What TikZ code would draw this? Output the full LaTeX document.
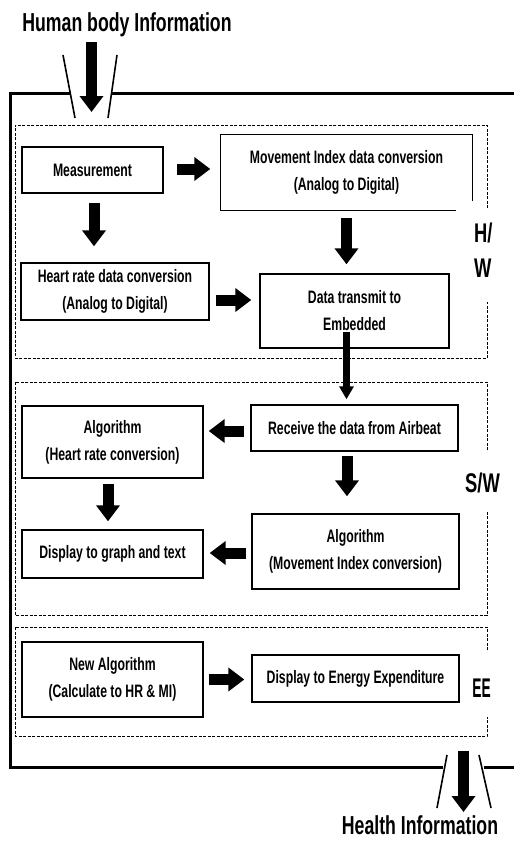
\documentclass[tikz,border=0pt]{standalone}
\usepackage{fontspec}
\setmainfont{Liberation Sans}[FakeStretch=0.68]
\usetikzlibrary{arrows.meta}
\newcommand\bxf{\fontsize{18}{27}\selectfont\bfseries}
\tikzset{
  box/.style={draw, line width=1.4pt, inner sep=0pt, align=center, font=\bxf},
  grp/.style={draw, line width=0.9pt, dash pattern=on 3pt off 1.5pt},
  frame/.style={line width=3pt},
  slash/.style={line width=1.6pt},
  blk/.style={line width=11pt, -{Triangle[length=16pt,width=23pt]}},
  thinblk/.style={line width=7pt, -{Triangle[length=13pt,width=14pt]}},
  lbl/.style={font=\fontsize{27}{35}\selectfont\bfseries, inner sep=0pt},
  ttl/.style={font=\fontsize{26}{30}\selectfont\bfseries, inner sep=0pt, anchor=base},
}
\begin{document}
\begin{tikzpicture}[x=1pt,y=-1pt]
\useasboundingbox (0,0) rectangle (514,844);

% outer frame
\draw[frame] (70,93) -- (10,93) -- (10,767) -- (443,767);
\draw[frame] (112,93) -- (514,93);
\draw[frame] (484,767) -- (514,767);
\draw[slash] (63,55) -- (75,118);
\draw[slash] (117,55) -- (108,118);
\draw[slash] (447,755) -- (437,808);
\draw[slash] (479,755) -- (491,808);

% titles
\node[ttl] (title) at (127,31) {Human body Information};
\node[ttl] (out) at (420,834) {Health Information};
\coordinate (inTop) at (91.5,42);
\coordinate (inTip) at (91.5,112);
\coordinate (outTop) at (463.5,751);
\coordinate (outTip) at (463.5,812);
\draw[blk] (inTop) -- (inTip);
\draw[blk] (outTop) -- (outTip);

% group frames
\draw[grp] (487,208) -- (487,125) -- (15,125) -- (15,358) -- (487,358) -- (487,302);
\draw[grp] (487,450) -- (487,382) -- (15,382) -- (15,615) -- (487,615) -- (487,512);
\draw[grp] (487,650) -- (487,627) -- (15,627) -- (15,736) -- (487,736) -- (487,717);

\node[lbl, align=left, anchor=west] (hw) at (474,250) {H/\\W};
\node[lbl, anchor=base] (sw) at (482.5,492) {S/W};
\node[lbl, anchor=base, xscale=0.75, transform shape] (ee) at (481.5,697) {EE};

% H/W boxes
\node[box, minimum width=141pt, minimum height=46pt] (meas) at (92.5,170) {Measurement};
\node[box, draw=none, minimum width=251pt, minimum height=75pt] (mov) at (346.5,172.5) {Movement Index data conversion\\(Analog to Digital)};
\draw[line width=1.4pt] ([xshift=-17pt]mov.south east) -- (mov.south west) -- (mov.north west) -- (mov.north east) -- ([yshift=10pt]mov.south east);
\node[box, minimum width=188pt, minimum height=57pt] (hr) at (115,291.5) {Heart rate data conversion\\(Analog to Digital)};
\node[box, minimum width=189pt, minimum height=74pt] (dt) at (354.5,311) {Data transmit to\\Embedded};

% S/W boxes
\node[box, minimum width=181pt, minimum height=72pt] (alghr) at (112.5,442) {Algorithm\\(Heart rate conversion)};
\node[box, minimum width=207pt, minimum height=46pt] (recv) at (354.5,428) {Receive the data from Airbeat};
\node[box, minimum width=181pt, minimum height=48pt] (disp) at (112.5,554) {Display to graph and text};
\node[box, minimum width=207pt, minimum height=75pt] (algmi) at (355.5,551.5) {Algorithm\\(Movement Index conversion)};

% EE boxes
\node[box, minimum width=181pt, minimum height=75pt] (newalg) at (112.5,679.5) {New Algorithm\\(Calculate to HR \& MI)};
\node[box, minimum width=207pt, minimum height=47pt] (dee) at (355.5,678.5) {Display to Energy Expenditure};

% arrows
\draw[blk, shorten <=13pt, shorten >=10pt] ([yshift=1pt]meas.east) -- ([yshift=1pt]meas.east -| mov.west);
\draw[blk, shorten <=9pt, shorten >=16pt] ([xshift=1.5pt]meas.south) -- ([xshift=1.5pt]meas.south |- hr.north);
\draw[blk, shorten <=7pt, shorten >=9pt] (mov.south) -- (mov.south |- dt.north);
\draw[blk, shorten <=6pt, shorten >=8pt] ([yshift=-8.5pt]hr.east) -- ([yshift=-8.5pt]hr.east -| dt.west);
\draw[thinblk, shorten >=5pt] ([xshift=-8pt,yshift=-21pt]dt.center) -- ([xshift=-8pt]dt.center |- recv.north);
\draw[blk, shorten <=6pt, shorten >=5pt] ([yshift=-3pt]recv.west) -- ([yshift=-3pt]recv.west -| alghr.east);
\draw[blk, shorten <=4pt, shorten >=17pt] ([xshift=-7.5pt]recv.south) -- ([xshift=-7.5pt]recv.south |- algmi.north);
\draw[blk, shorten <=5pt, shorten >=8pt] ([xshift=-4.5pt]alghr.south) -- ([xshift=-4.5pt]alghr.south |- disp.north);
\draw[blk, shorten <=5pt, shorten >=6pt] ([yshift=-1.5pt]algmi.west) -- ([yshift=-1.5pt]algmi.west -| disp.east);
\draw[blk, shorten <=5pt, shorten >=7pt] (newalg.east) -- (newalg.east -| dee.west);
\end{tikzpicture}
\end{document}
